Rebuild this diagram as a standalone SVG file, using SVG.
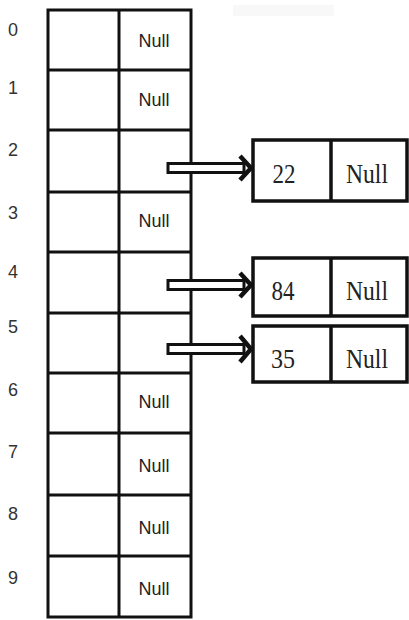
<svg xmlns="http://www.w3.org/2000/svg" width="409" height="620" viewBox="0 0 409 620">
<style>
.cell{fill:#fff;stroke:#111;stroke-width:3}
.idx{font-family:"Liberation Sans","DejaVu Sans",sans-serif;font-size:18px;fill:#333;text-anchor:middle}
.tnull{font-family:"Liberation Sans","DejaVu Sans",sans-serif;font-size:18px;fill:#222;text-anchor:middle}
.box{fill:#fff;stroke:#111;stroke-width:3.5}
.btxt{font-family:"Liberation Serif","DejaVu Serif",serif;font-size:28px;fill:#222;text-anchor:middle}
.shaft{fill:#fff;stroke:#111;stroke-width:3}
.head{fill:none;stroke:#111;stroke-width:4.5;stroke-linejoin:miter}
</style>
<rect width="409" height="620" fill="#fff"/>
<rect x="233" y="5" width="101" height="11" fill="#f8f8f8"/>
<g id="table">
<rect class="cell" x="48" y="10" width="143" height="607"/>
<line class="cell" x1="119" y1="10" x2="119" y2="617"/>
<line class="cell" x1="48" y1="70" x2="191" y2="70"/>
<line class="cell" x1="48" y1="130" x2="191" y2="130"/>
<line class="cell" x1="48" y1="192" x2="191" y2="192"/>
<line class="cell" x1="48" y1="252" x2="191" y2="252"/>
<line class="cell" x1="48" y1="313" x2="191" y2="313"/>
<line class="cell" x1="48" y1="373" x2="191" y2="373"/>
<line class="cell" x1="48" y1="433" x2="191" y2="433"/>
<line class="cell" x1="48" y1="495" x2="191" y2="495"/>
<line class="cell" x1="48" y1="556" x2="191" y2="556"/>
</g>
<g id="indices">
<text class="idx" x="13" y="36">0</text>
<text class="idx" x="13" y="94">1</text>
<text class="idx" x="13" y="156">2</text>
<text class="idx" x="13" y="219">3</text>
<text class="idx" x="13" y="278">4</text>
<text class="idx" x="13" y="333">5</text>
<text class="idx" x="13" y="396">6</text>
<text class="idx" x="13" y="458">7</text>
<text class="idx" x="13" y="520">8</text>
<text class="idx" x="13" y="584">9</text>
</g>
<g id="table-nulls">
<text class="tnull" x="154" y="47" textLength="31" lengthAdjust="spacingAndGlyphs">Null</text>
<text class="tnull" x="154" y="106" textLength="31" lengthAdjust="spacingAndGlyphs">Null</text>
<text class="tnull" x="154" y="227" textLength="31" lengthAdjust="spacingAndGlyphs">Null</text>
<text class="tnull" x="154" y="408" textLength="31" lengthAdjust="spacingAndGlyphs">Null</text>
<text class="tnull" x="154" y="472" textLength="31" lengthAdjust="spacingAndGlyphs">Null</text>
<text class="tnull" x="154" y="534" textLength="31" lengthAdjust="spacingAndGlyphs">Null</text>
<text class="tnull" x="154" y="595" textLength="31" lengthAdjust="spacingAndGlyphs">Null</text>
</g>
<g id="node-22">
<rect class="box" x="253" y="140" width="154" height="61"/>
<line class="box" x1="331" y1="140" x2="331" y2="201"/>
<text class="btxt" x="284" y="183" textLength="23" lengthAdjust="spacingAndGlyphs">22</text>
<text class="btxt" x="367" y="183" textLength="42" lengthAdjust="spacingAndGlyphs">Null</text>
</g>
<g id="node-84">
<rect class="box" x="253" y="258" width="154" height="58"/>
<line class="box" x1="331" y1="258" x2="331" y2="316"/>
<text class="btxt" x="283" y="300" textLength="23" lengthAdjust="spacingAndGlyphs">84</text>
<text class="btxt" x="367" y="300" textLength="42" lengthAdjust="spacingAndGlyphs">Null</text>
</g>
<g id="node-35">
<rect class="box" x="253" y="326" width="154" height="56"/>
<line class="box" x1="331" y1="326" x2="331" y2="382"/>
<text class="btxt" x="283" y="368" textLength="24" lengthAdjust="spacingAndGlyphs">35</text>
<text class="btxt" x="367" y="368" textLength="42" lengthAdjust="spacingAndGlyphs">Null</text>
</g>
<g id="connectors">
<rect class="shaft" x="168" y="163.5" width="76" height="9"/>
<polyline class="head" points="240,156 251,168 240,180"/>
<rect class="shaft" x="168" y="280.5" width="76" height="9"/>
<polyline class="head" points="240,273 251,285 240,297"/>
<rect class="shaft" x="168" y="344.5" width="76" height="9"/>
<polyline class="head" points="240,336 251,349 240,362"/>
</g>
</svg>
